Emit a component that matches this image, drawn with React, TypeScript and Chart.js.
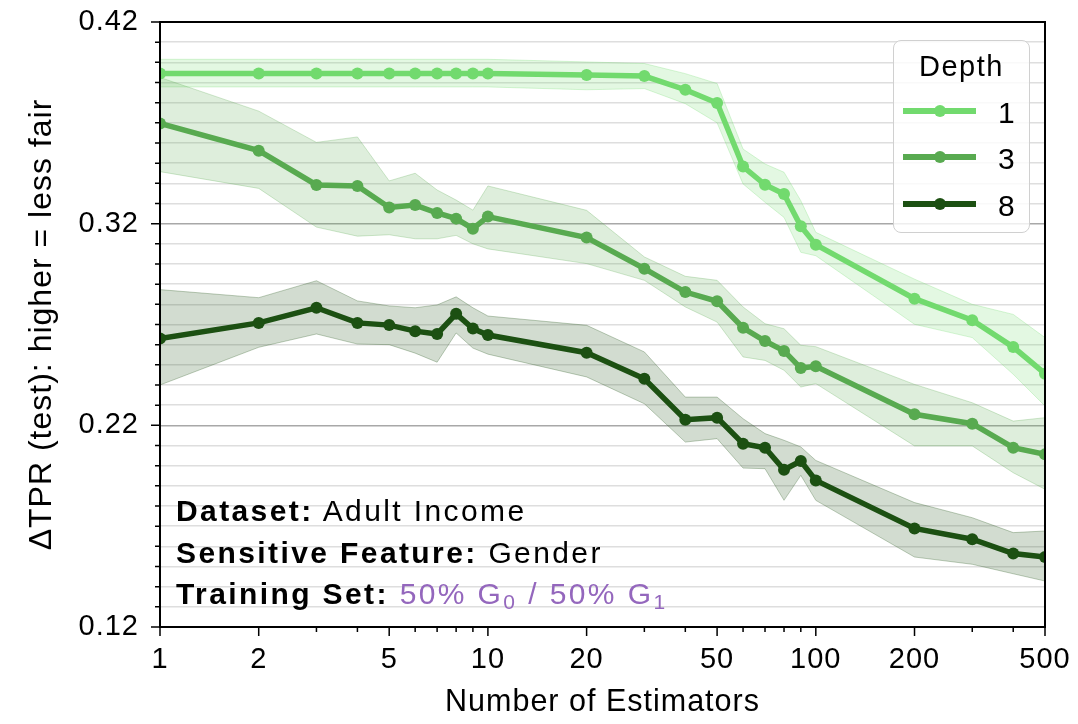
import React, { useEffect, useRef } from "react";
import { Chart, registerables } from "chart.js";

Chart.register(...registerables);

// ---------- data ----------
const estimators = [1, 2, 3, 4, 5, 6, 7, 8, 9, 10, 20, 30, 40, 50, 60, 70, 80, 90, 100, 200, 300, 400, 500];

const depthLabels = ["1", "3", "8"];

const depth1Mean = [0.3945, 0.3945, 0.3945, 0.3945, 0.3945, 0.3945, 0.3945, 0.3945, 0.3945, 0.3945, 0.3937, 0.3932, 0.3864, 0.3798, 0.3483, 0.3393, 0.3347, 0.3187, 0.3096, 0.2828, 0.2721, 0.2588, 0.2456];
const depth1Upper = [0.4015, 0.4015, 0.4015, 0.4015, 0.4015, 0.4015, 0.4015, 0.4015, 0.4015, 0.4015, 0.4002, 0.3994, 0.3944, 0.3895, 0.357, 0.3496, 0.3455, 0.3314, 0.3157, 0.2925, 0.28, 0.275, 0.2635];
const depth1Lower = [0.3878, 0.3878, 0.3878, 0.3878, 0.3878, 0.3878, 0.3878, 0.3878, 0.3878, 0.3878, 0.3864, 0.387, 0.3795, 0.37, 0.3397, 0.3306, 0.3231, 0.3058, 0.3041, 0.2701, 0.2635, 0.2453, 0.2296];

const depth3Mean = [0.3697, 0.3562, 0.3392, 0.3387, 0.328, 0.3292, 0.3253, 0.3225, 0.3175, 0.3235, 0.3131, 0.2977, 0.2861, 0.2815, 0.2684, 0.2618, 0.2569, 0.2484, 0.2493, 0.2255, 0.2208, 0.2089, 0.2056];
const depth3Upper = [0.3925, 0.3758, 0.3603, 0.363, 0.3412, 0.345, 0.3367, 0.3317, 0.3267, 0.3387, 0.3266, 0.3035, 0.2939, 0.2919, 0.2787, 0.2704, 0.2679, 0.2597, 0.259, 0.2403, 0.2312, 0.2221, 0.2238];
const depth3Lower = [0.3458, 0.3375, 0.3183, 0.3138, 0.3145, 0.3125, 0.3125, 0.3142, 0.31, 0.3075, 0.3002, 0.2919, 0.2787, 0.2712, 0.2539, 0.2522, 0.2473, 0.239, 0.2407, 0.2098, 0.2098, 0.1965, 0.1883];

const depth8Mean = [0.263, 0.2708, 0.2783, 0.2708, 0.2697, 0.2667, 0.2653, 0.2753, 0.268, 0.2648, 0.256, 0.2431, 0.2228, 0.2238, 0.2109, 0.2089, 0.198, 0.2023, 0.1927, 0.1689, 0.1635, 0.1564, 0.1547];
const depth8Upper = [0.2873, 0.2833, 0.2917, 0.2817, 0.2792, 0.2783, 0.2797, 0.2837, 0.2783, 0.2742, 0.2696, 0.2564, 0.234, 0.234, 0.2233, 0.2159, 0.2126, 0.2093, 0.2026, 0.1817, 0.1742, 0.1668, 0.1676];
const depth8Lower = [0.24, 0.2587, 0.2653, 0.2603, 0.26, 0.2558, 0.2513, 0.2658, 0.2583, 0.2553, 0.244, 0.2307, 0.2117, 0.2134, 0.1988, 0.1985, 0.1828, 0.1952, 0.1828, 0.1547, 0.1511, 0.1464, 0.1428];

const yMajorTicks = [0.12, 0.22, 0.32, 0.42];
const xLabeledTicks = [1, 2, 5, 10, 20, 50, 100, 200, 500];
const xMinorTicks = [3, 4, 6, 7, 8, 9, 30, 40, 60, 70, 80, 90, 300, 400];

// ---------- styles ----------
const FONT = "'Liberation Sans', Arial, Helvetica, sans-serif";
const lineRGB = ["114,218,110", "88,170,80", "28,80,18"];
const seriesMeans = [depth1Mean, depth3Mean, depth8Mean];
const seriesUppers = [depth1Upper, depth3Upper, depth8Upper];
const seriesLowers = [depth1Lower, depth3Lower, depth8Lower];
const PURPLE = "#9467bd";

const isMajorY = (v: number) => yMajorTicks.some((m) => Math.abs(m - v) < 1e-6);
const pts = (arr: number[]) => estimators.map((x, i) => ({ x, y: arr[i] }));

function buildDatasets() {
  const ds: any[] = [];
  seriesMeans.forEach((mean, k) => {
    const rgb = lineRGB[k];
    ds.push({
      label: "upper" + depthLabels[k],
      data: pts(seriesUppers[k]),
      borderColor: `rgba(${rgb},0.28)`,
      borderWidth: 1,
      pointRadius: 0,
      fill: false,
      order: 20 - k,
      clip: 0,
    });
    ds.push({
      label: "lower" + depthLabels[k],
      data: pts(seriesLowers[k]),
      borderColor: `rgba(${rgb},0.28)`,
      backgroundColor: `rgba(${rgb},0.2)`,
      borderWidth: 1,
      pointRadius: 0,
      fill: "-1",
      order: 20 - k,
      clip: 0,
    });
    ds.push({
      label: depthLabels[k],
      data: pts(mean),
      borderColor: `rgb(${rgb})`,
      backgroundColor: `rgb(${rgb})`,
      pointBackgroundColor: `rgb(${rgb})`,
      pointBorderWidth: 0,
      pointRadius: 6,
      borderWidth: 5.5,
      tension: 0,
      fill: false,
      order: 5 - k,
      clip: 0,
    });
  });
  return ds;
}

const zeroPadding = (scale: any) => {
  scale.paddingTop = 0;
  scale.paddingBottom = 0;
  scale.paddingLeft = 0;
  scale.paddingRight = 0;
};

const frameTicksPlugin = {
  id: "frameTicks",
  beforeDraw(chart: any) {
    (chart.ctx as any).letterSpacing = "1px";
  },
  afterDraw(chart: any) {
    const { ctx, chartArea: a, scales } = chart;
    ctx.save();
    ctx.strokeStyle = "#000";
    ctx.lineWidth = 1.5;
    ctx.beginPath();
    scales.y.ticks.forEach((t: any) => {
      const py = scales.y.getPixelForValue(t.value);
      const len = isMajorY(t.value) ? 9 : 5;
      ctx.moveTo(a.left - len, py);
      ctx.lineTo(a.left, py);
    });
    scales.x.ticks.forEach((t: any) => {
      const px = scales.x.getPixelForValue(t.value);
      const len = xLabeledTicks.includes(t.value) ? 9 : 5;
      ctx.moveTo(px, a.bottom);
      ctx.lineTo(px, a.bottom + len);
    });
    ctx.stroke();
    ctx.lineWidth = 2;
    ctx.strokeRect(a.left, a.top, a.right - a.left, a.bottom - a.top);
    ctx.restore();
  },
};

export default function App() {
  const ref = useRef<HTMLCanvasElement>(null);

  useEffect(() => {
    if (!ref.current) return;
    const chart = new Chart(ref.current, {
      type: "line",
      data: { datasets: buildDatasets() },
      plugins: [frameTicksPlugin as any],
      options: {
        animation: false,
        responsive: false,
        devicePixelRatio: window.devicePixelRatio || 1,
        layout: { padding: { top: 22, right: 33, left: 0, bottom: 0 } },
        plugins: {
          legend: { display: false },
          tooltip: { enabled: false },
        },
        scales: {
          x: {
            type: "logarithmic",
            min: 1,
            max: 500,
            afterBuildTicks: (scale: any) => {
              scale.ticks = [...xLabeledTicks, ...xMinorTicks]
                .sort((p, q) => p - q)
                .map((v) => ({ value: v }));
            },
            afterFit: (scale: any) => {
              scale.height = 97;
              zeroPadding(scale);
            },
            grid: { display: false, drawTicks: false },
            border: { display: false },
            ticks: {
              autoSkip: false,
              maxRotation: 0,
              padding: 16,
              color: "#000",
              font: { family: FONT, size: 29 },
              callback: (v: any) => (xLabeledTicks.includes(Number(v)) ? String(v) : ""),
            },
            title: {
              display: true,
              text: "Number of Estimators",
              color: "#000",
              font: { family: FONT, size: 30.5 },
              padding: { top: 0, bottom: 3.5 },
            },
          },
          y: {
            type: "linear",
            min: 0.12,
            max: 0.42,
            afterFit: (scale: any) => {
              scale.width = 160;
              zeroPadding(scale);
            },
            grid: {
              drawTicks: false,
              color: (c: any) => (isMajorY(c.tick.value) ? "#a8a8a8" : "#dedede"),
              lineWidth: 1.5,
            },
            border: { display: false },
            ticks: {
              stepSize: 0.01,
              autoSkip: false,
              padding: 21,
              color: "#000",
              font: { family: FONT, size: 29 },
              callback: (v: any) => (isMajorY(Number(v)) ? Number(v).toFixed(2) : ""),
            },
            title: {
              display: true,
              text: "ΔTPR (test): higher = less fair",
              color: "#000",
              font: { family: FONT, size: 32 },
              padding: { top: 22.8, bottom: 0 },
            },
          },
        },
      } as any,
    });
    return () => chart.destroy();
  }, []);

  const legendRows = [110.5, 157, 203.5];

  return (
    <div
      style={{
        position: "fixed",
        left: 0,
        top: 0,
        width: 1078,
        height: 724,
        background: "#fff",
        overflow: "hidden",
        fontFamily: FONT,
      }}
    >
      <canvas
        ref={ref}
        width={1078}
        height={724}
        style={{ position: "absolute", left: 0, top: 0, width: 1078, height: 724 }}
      />

      {/* Legend */}
      <div
        style={{
          position: "absolute",
          left: 893,
          top: 40,
          width: 137,
          height: 193,
          boxSizing: "border-box",
          border: "1.5px solid #d0d0d0",
          borderRadius: 8,
          background: "rgba(255,255,255,0.8)",
        }}
      />
      <div
        style={{
          position: "absolute",
          left: 893,
          top: 51.6,
          width: 137,
          textAlign: "center",
          fontSize: 29,
          lineHeight: "29px",
          letterSpacing: "1.5px",
          color: "#000",
        }}
      >
        Depth
      </div>
      {depthLabels.map((lab, k) => (
        <React.Fragment key={lab}>
          <div
            style={{
              position: "absolute",
              left: 903,
              top: legendRows[k] - 3,
              width: 73,
              height: 6,
              background: `rgb(${lineRGB[k]})`,
            }}
          />
          <div
            style={{
              position: "absolute",
              left: 939.5 - 6,
              top: legendRows[k] - 6,
              width: 12,
              height: 12,
              borderRadius: "50%",
              background: `rgb(${lineRGB[k]})`,
            }}
          />
          <div
            style={{
              position: "absolute",
              left: 998,
              top: legendRows[k] + 1.8 - 14.65,
              fontSize: 30,
              lineHeight: "30px",
              color: "#000",
            }}
          >
            {lab}
          </div>
        </React.Fragment>
      ))}

      {/* Annotation */}
      <div
        style={{
          position: "absolute",
          left: 176,
          top: 490,
          fontSize: 30,
          lineHeight: "41.7px",
          letterSpacing: "2.4px",
          color: "#000",
          whiteSpace: "nowrap",
        }}
      >
        <div>
          <b>Dataset:</b> Adult Income
        </div>
        <div>
          <b>Sensitive Feature:</b> Gender
        </div>
        <div>
          <b>Training Set:</b>{" "}
          <span style={{ color: PURPLE }}>
            50% G
            <span style={{ fontSize: "0.7em", verticalAlign: "-0.22em", lineHeight: 0 }}>0</span> / 50% G
            <span style={{ fontSize: "0.7em", verticalAlign: "-0.22em", lineHeight: 0 }}>1</span>
          </span>
        </div>
      </div>
    </div>
  );
}
